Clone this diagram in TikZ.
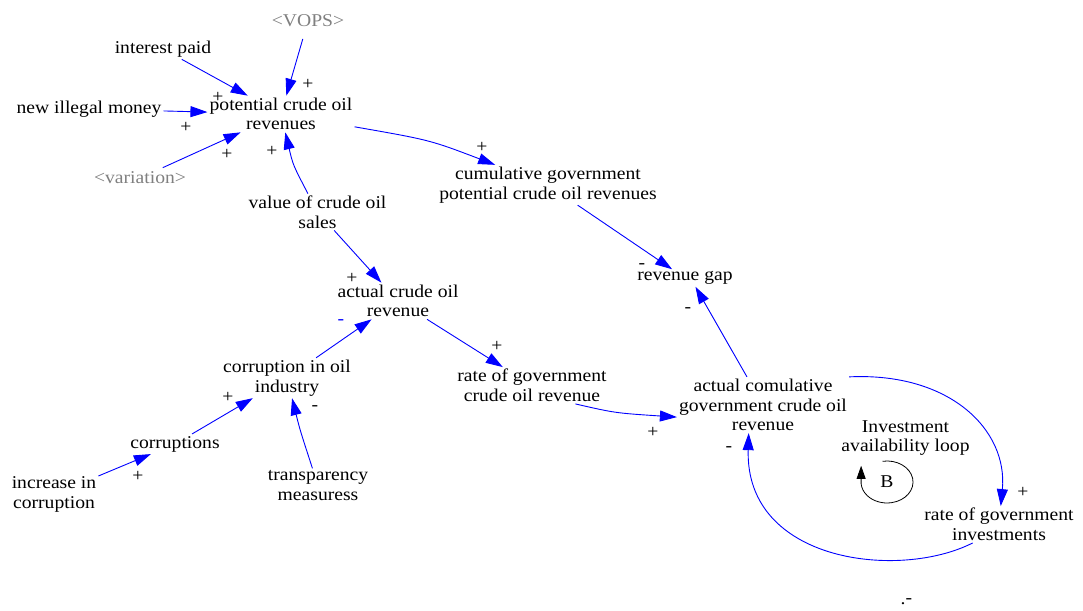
\documentclass[tikz,border=0pt]{standalone}
\usepackage{fontspec}
\setmainfont{Liberation Serif}[FakeStretch=1.09]
\usetikzlibrary{arrows.meta}
\definecolor{vblue}{RGB}{0,0,255}
\definecolor{vgray}{RGB}{128,128,128}
\begin{document}
\begin{tikzpicture}[x=1pt,y=-1pt,
  var/.style={align=center,inner sep=2pt,font=\fontsize{18}{19.6}\selectfont},
  shadowvar/.style={var,text=vgray},
  link/.style={draw=vblue,line width=0.9pt,-{Triangle[length=17pt,width=11pt]}},
  pol/.style={inner sep=0pt,font=\fontsize{18}{18}\selectfont},
  bpol/.style={pol,text=vblue},
  looparrow/.style={draw=black,line width=0.8pt,-{Triangle[length=13pt,width=9pt]}}
]
\useasboundingbox (0,0) rectangle (1083,610);

% variables
\node[shadowvar] (vops) at (308,21) {<VOPS>};
\node[var] (ip)   at (163,49) {interest paid};
\node[var] (nim)  at (89,109) {new illegal money};
\node[var] (pcor) at (281,114) {potential crude oil\\revenues};
\node[shadowvar] (var) at (140,178) {<variation>};
\node[var] (vcos) at (317.5,212) {value of crude oil\\sales};
\node[var] (cgp)  at (548,185) {cumulative government\\potential crude oil revenues};
\node[var] (rg)   at (685,278) {revenue gap};
\node[var] (acr)  at (398,301) {actual crude oil\\revenue};
\node[var] (rgcr) at (532,385.5) {rate of government\\crude oil revenue};
\node[var] (cio)  at (287,378) {corruption in oil\\industry};
\node[var] (cor)  at (175,444) {corruptions};
\node[var] (inc)  at (54,494.5) {increase in\\corruption};
\node[var] (tm)   at (318,485.5) {transparency\\measuress};
\node[var] (acg)  at (763,405) {actual comulative\\government crude oil\\revenue};
\node[var] (loop) at (905.5,438) {Investment\\availability loop};
\node[var] (B)    at (887,482) {B};
\node[var] (rgi)  at (999,524.5) {rate of government\\investments};

% links
\draw[link,shorten <=10pt] (vops) -- (pcor);
\draw[link] (ip) -- (pcor);
\draw[link] (nim) -- (pcor);
\draw[link,shorten <=5pt] (var) -- (pcor);
\draw[link] (vcos) .. controls (293,165) .. (pcor);
\draw[link] (pcor) .. controls (430,140) .. (cgp);
\draw[link] (vcos) -- (acr);
\draw[link] (cgp) -- (rg);
\draw[link] (acr) -- (rgcr);
\draw[link] (cio) -- (acr);
\draw[link] (cor) -- (cio);
\draw[link] (inc) -- (cor);
\draw[link] (tm) .. controls (300,430) .. (cio);
\draw[link] (rgcr.-23) .. controls (615,413) .. (acg.188);
\draw[link] (acg) -- (rg.-40);
\draw[link] (acg.north east) .. controls (950,372) and (1008,430) .. (rgi);
\draw[link] (rgi.-145) .. controls (900,580) and (745,563) .. (acg.-117);

% loop marker
\draw[looparrow] ([shift={(-4.5,-20.7)}]B.center)
  arc[start angle=-100,end angle=175,x radius=26,y radius=21] -- ++(0,-18);

% polarities
\node[pol] (p1)  at (308,84)  {+};
\node[pol] (p2)  at (218,97)  {+};
\node[pol] (p3)  at (186,127) {+};
\node[pol] (p4)  at (227,154) {+};
\node[pol] (p5)  at (272,151) {+};
\node[pol] (p6)  at (482,147) {+};
\node[pol] (p7)  at (352,278) {+};
\node[pol] (p8)  at (642,266) {-};
\node[pol] (p9)  at (497,346) {+};
\node[bpol] (p10) at (341,322) {-};
\node[pol] (p11) at (228,397) {+};
\node[pol] (p12) at (315,408) {-};
\node[pol] (p13) at (138,476) {+};
\node[pol] (p14) at (653,432) {+};
\node[pol] (p15) at (688,310) {-};
\node[pol] (p16) at (1023,492) {+};
\node[pol] (p17) at (729,449) {-};
\node[pol] (s1)  at (903,604) {.};
\node[pol] (s2)  at (909,601) {-};
\end{tikzpicture}
\end{document}
